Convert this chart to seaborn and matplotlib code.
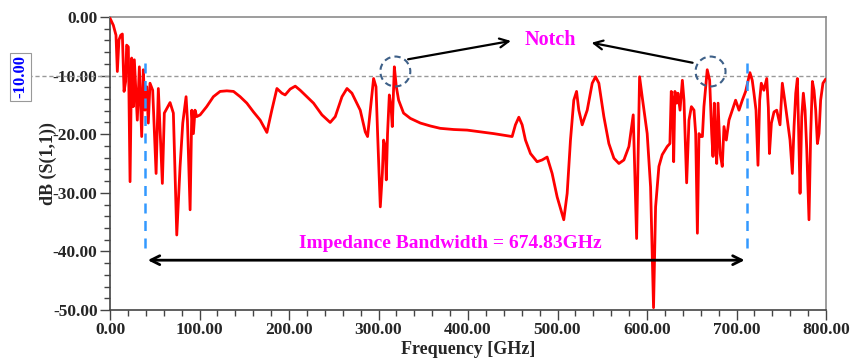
import matplotlib
matplotlib.use("Agg")
import matplotlib.pyplot as plt
from matplotlib.patches import Ellipse
from matplotlib.ticker import MultipleLocator, FormatStrFormatter
import seaborn as sns
import pandas as pd

# ---- data ----
freq_ghz = [
    0, 3.7, 6.7, 8.2, 10, 12, 13.8, 15.7, 17.5, 18.6, 20.5, 22.4, 24.2, 26, 27.2,
    30.5, 32.8, 35.4, 37.2, 39.1, 41, 42.8, 44.7, 47.7, 51.5, 54, 58.5, 60.7,
    67.1, 70.8, 74.6, 78.3, 81.3, 85, 86.5, 89.5, 91.4, 93.2, 95, 96.9, 100.7,
    108, 115.5, 123, 130.5, 138, 145.4, 152.9, 160.3, 167.8, 175.3, 180.8, 186.5,
    192, 195.7, 201.3, 207, 212.5, 220, 227.4, 236.8, 246, 251.7, 259.2, 264.8,
    270.3, 279.6, 285.2, 287.8, 290.8, 294.5, 297.2, 299, 302, 304.3, 305.7,
    307.6, 308.7, 310.1, 312.1, 314, 315.4, 317.7, 319.9, 322.5, 328, 335.6,
    346.8, 358, 369, 384, 399, 413.9, 428.7, 449.3, 453, 456.8, 460.5, 464.2,
    469.8, 477.2, 482.8, 488.4, 494, 499.6, 507, 510.8, 514.5, 518.2, 521.3,
    523.8, 527.6, 533.2, 538.8, 542.5, 546.2, 551.8, 557.4, 563, 568.6, 574.2,
    579.8, 584.6, 588.4, 591.7, 594.6, 600.2, 604, 607.3, 609.6, 613.3, 617,
    622.6, 625.6, 627.1, 628.6, 629.8, 631.2, 633.1, 634.6, 636.9, 639.5, 641.3,
    644.3, 646.9, 649.6, 652.5, 654.4, 656.3, 658.1, 660, 661.9, 663.6, 667.3,
    670, 672.3, 673.7, 675.2, 676.7, 677.9, 679.4, 681.7, 684.1, 686, 688.6,
    691.6, 695.3, 699, 702.8, 706.5, 710.2, 715, 717.6, 719.5, 721.8, 724,
    725.9, 727.7, 730.6, 733.8, 735.6, 736.8, 739, 741.9, 744.9, 748.6, 751.2,
    753.9, 756.9, 759.8, 762.4, 764.3, 766.2, 768, 769.5, 771, 772.9, 774.7,
    776.6, 778.5, 781, 782.9, 784.8, 786.6, 788.5, 790.4, 792.2, 794, 796.6,
    799.6,
]
s11_db = [
    -0.2, -1.4, -3.1, -9.3, -3.9, -3.1, -2.9, -12.7, -11, -4.8, -5.1, -28.1, -7,
    -15.3, -7.3, -17.6, -8.5, -20.4, -9, -15.9, -11.9, -18.1, -11.3, -12.5,
    -26.7, -12.2, -28.4, -16.4, -14.6, -16.4, -37.2, -25.5, -18.1, -13.6, -17.6,
    -32.9, -15.9, -19.9, -15.9, -17, -16.7,
    -15.3, -13.6, -12.7, -12.6, -12.7, -13.6, -14.7, -16.2, -17.6, -19.7, -15.9,
    -12.2, -13, -13.3, -12.3, -11.8, -12.5, -13.6, -14.7, -16.7, -18, -17,
    -13.6, -12.2, -13, -15.9, -19.6, -20.4, -15.9, -10.5, -11.9, -19.9, -32.4,
    -26.7, -21, -22.1, -27.8, -19.9, -13.3, -15.3, -18.7, -8.5, -11.9, -14.2,
    -16.4, -17.3, -18.1, -18.6, -19, -19.2, -19.3, -19.6, -19.9, -20.4, -18.4,
    -17.1, -18.4, -21, -23.3, -24.7, -24.4, -23.9, -26.7, -30.7, -34.6, -30.1,
    -21, -14.2, -12.7, -15.9, -18.4, -15.9, -11.3, -10.2, -11.3, -17, -21.6,
    -24.1, -25, -24.4, -22.1, -16.7, -37.8, -10.2, -13.6, -19.9, -29, -49.6,
    -32.4, -25.5, -23.5, -22.1, -21.6, -12.7, -14.2, -24.7, -12.7, -14.7, -13,
    -15.9, -10.8, -14.2, -28.3, -17.6, -15.3, -15.9, -19.9, -36.9, -19.9, -20.4,
    -20.4, -15.3, -9, -10.8, -19.9, -23.8, -14.7, -22, -25, -14.7, -23.3, -25.5,
    -18.7, -21, -17.6, -15.9, -14.2, -15.9, -14.2, -12.7, -9.5, -10.8, -13,
    -15.9, -25.3, -14.2, -11.3, -12.5, -10.5, -15.5, -23.3, -18.1, -16.2, -15.9,
    -18.4, -11.3, -14.2, -17.6, -21, -26.7, -18.7, -13, -10.5, -19.9, -30.1,
    -17, -13, -15.9, -22.6, -34.6, -19.9, -11, -12.5, -15.9, -21.6, -19.9,
    -14.2, -11.3, -10.6,
]
x_ticks = [0, 100, 200, 300, 400, 500, 600, 700, 800]
y_ticks = [0, -10, -20, -30, -40, -50]
band_low, band_high = 39.1, 712.2
notch_freqs = [318.8, 671.0]
threshold_db = -10
bandwidth_label = "Impedance Bandwidth = 674.83GHz"
notch_label = "Notch"

df = pd.DataFrame({"Frequency": freq_ghz, "S11": s11_db})

sns.set_style("ticks")
serif = ["Liberation Serif", "DejaVu Serif"]
plt.rcParams["font.family"] = serif
plt.rcParams["font.weight"] = "bold"

fig = plt.figure(figsize=(8.5, 3.62), dpi=100)
ax = fig.add_axes([110 / 850, 1 - 310 / 362, 716 / 850, 293 / 362])

sns.lineplot(data=df, x="Frequency", y="S11", color="#ff0000", linewidth=2.0,
             ax=ax, zorder=3)

ax.set_xlim(0, 800)
ax.set_ylim(-50, 0)
ax.set_xticks(x_ticks)
ax.set_yticks(y_ticks)
ax.xaxis.set_minor_locator(MultipleLocator(20))
ax.yaxis.set_minor_locator(MultipleLocator(2))
ax.xaxis.set_major_formatter(FormatStrFormatter("%.2f"))
ax.yaxis.set_major_formatter(FormatStrFormatter("%.2f"))
ax.tick_params(axis="both", which="major", length=7, width=1, color="#444444",
               labelsize=12.5, pad=2)
ax.tick_params(axis="both", which="minor", length=4, width=1, color="#444444")
for lab in ax.get_xticklabels() + ax.get_yticklabels():
    lab.set_fontweight("bold")

for side in ["left", "bottom"]:
    ax.spines[side].set_color("#444444")
    ax.spines[side].set_linewidth(1.2)
for side in ["top", "right"]:
    ax.spines[side].set_color("#8c8c8c")
    ax.spines[side].set_linewidth(1.2)

ax.set_xlabel("Frequency [GHz]", fontsize=13, fontweight="bold")
ax.set_ylabel("dB (S(1,1))", fontsize=13, fontweight="bold")
ax.xaxis.set_label_coords(0.5, -0.105)
ax.yaxis.set_label_coords(-0.074, 0.5)

# -10 dB threshold line, extending out to the marker label
ax.plot([-92, 800], [threshold_db, threshold_db], color="#999999", lw=1,
        ls=(0, (3, 2)), clip_on=False, zorder=1)
fig.text(20.5 / 850, 1 - 77 / 362, "-10.00", rotation=90, color="#0000ff",
         fontsize=12, fontweight="bold", ha="center", va="center",
         bbox=dict(boxstyle="square,pad=0.15", fc="white", ec="#999999", lw=0.8))

# bandwidth markers
for f in (band_low, band_high):
    ax.plot([f, f], [-7.9, -40.5], color="#3399ff", lw=1.8, ls=(0, (4, 3)),
            zorder=4)
ax.annotate("", xy=(band_low, -41.5), xytext=(band_high, -41.5),
            arrowprops=dict(arrowstyle="<->", color="black", lw=2,
                            mutation_scale=16), zorder=5)
ax.text(380, -38.6, bandwidth_label, color="#ff00ff",
        fontsize=14, fontweight="bold", ha="center", va="center")

# notch annotations
for f in notch_freqs:
    ax.add_patch(Ellipse((f, -9.3), width=33.5, height=5.1, fill=False,
                         ec="#3e6088", lw=1.5, ls=(0, (3, 2)), zorder=6))
ax.text(492, -4.0, notch_label, color="#ff00ff", fontsize=14.5,
        fontweight="bold", ha="center", va="center")
ax.annotate("", xy=(451, -4.0), xytext=(330, -7.3),
            arrowprops=dict(arrowstyle="->", color="black", lw=1.6,
                            mutation_scale=16))
ax.annotate("", xy=(535, -4.3), xytext=(654, -7.9),
            arrowprops=dict(arrowstyle="->", color="black", lw=1.6,
                            mutation_scale=16))

fig.savefig("out.png", dpi=100)
